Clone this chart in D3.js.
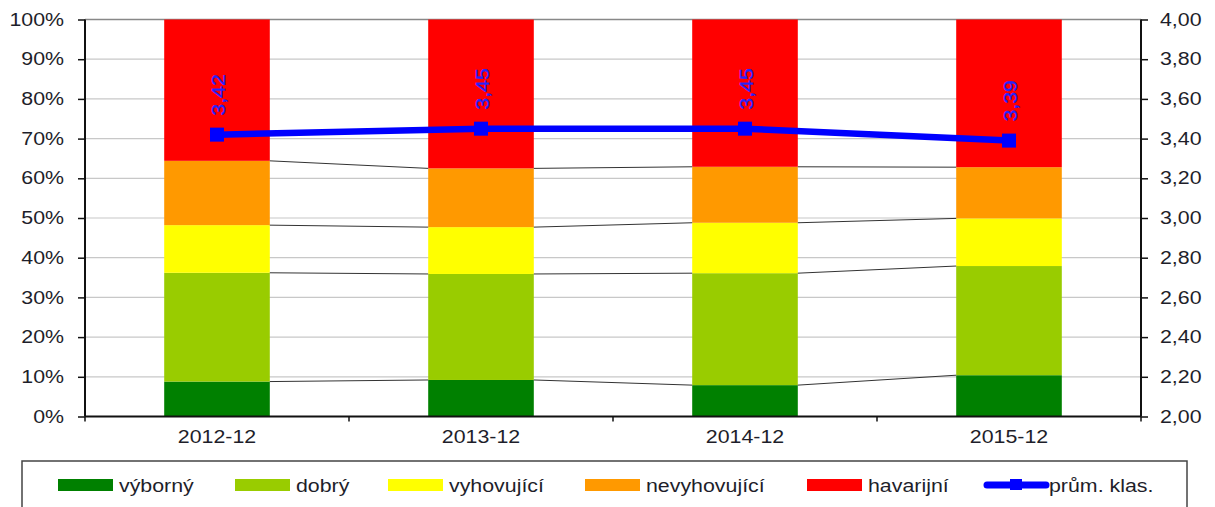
<!DOCTYPE html>
<html>
<head>
<meta charset="utf-8">
<script src="https://cdn.jsdelivr.net/npm/d3@7"></script>
<style>
  body { margin: 0; background: #fff; }
  svg text { font-family: "Liberation Sans", Arial, sans-serif; fill: #1e1e2a; }
</style>
</head>
<body>
<script>
  "use strict";

  /***** Données *****/
  const categories = ["2012-12", "2013-12", "2014-12", "2015-12"];
  const seriesNames = ["výborný", "dobrý", "vyhovující", "nevyhovující", "havarijní"];
  const seriesColors = ["#008000", "#99cc00", "#ffff00", "#ff9900", "#ff0000"];
  const vyborny = [8.8, 9.2, 7.9, 10.4];
  const dobry = [27.4, 26.7, 28.2, 27.5];
  const vyhovujici = [12.0, 11.8, 12.7, 12.0];
  const nevyhovujici = [16.2, 14.8, 14.1, 12.9];
  const havarijni = [35.6, 37.5, 37.1, 37.2];
  const prumKlas = [3.42, 3.45, 3.45, 3.39];
  const lineName = "prům. klas.";

  /***** Configuration *****/
  const W = 1215, H = 507;
  const margin = { top: 19.5, right: 74, bottom: 90.5, left: 85 };
  const width = W - margin.left - margin.right;
  const height = H - margin.top - margin.bottom;
  const STRETCH = 1.22;

  const table = categories.map((c, i) => ({
    cat: c, "výborný": vyborny[i], "dobrý": dobry[i], "vyhovující": vyhovujici[i],
    "nevyhovující": nevyhovujici[i], "havarijní": havarijni[i]
  }));
  const stacked = d3.stack().keys(seriesNames)(table);

  const x = d3.scaleBand().domain(categories).range([0, width]).paddingInner(0.6).paddingOuter(0.3);
  const xb = d3.scaleBand().domain(categories).range([0, width]);
  const y = d3.scaleLinear().domain([0, 100]).range([height, 0]);
  const y2 = d3.scaleLinear().domain([2, 4]).range([height, 0]);
  const color = d3.scaleOrdinal().domain(seriesNames).range(seriesColors);

  const svg = d3.select("body").append("svg").attr("width", W).attr("height", H);
  const g = svg.append("g").attr("transform", "translate(" + margin.left + "," + margin.top + ")");

  function stretch(sel, k) {
    sel.each(function() {
      const w = this.getComputedTextLength();
      this.setAttribute("textLength", w * (k || STRETCH));
      this.setAttribute("lengthAdjust", "spacingAndGlyphs");
    });
  }

  // Quadrillage
  g.append("g").selectAll("line")
    .data(d3.range(10, 100, 10))
    .join("line")
    .attr("x1", 0).attr("x2", width)
    .attr("y1", d => y(d)).attr("y2", d => y(d))
    .attr("stroke", "#c8c8c8").attr("stroke-width", 1.2);

  // Bordure supérieure
  g.append("line").attr("x1", 0).attr("x2", width).attr("y1", 0).attr("y2", 0)
    .attr("stroke", "#888").attr("stroke-width", 1.5);

  // Barres empilées
  g.append("g").selectAll("g")
    .data(stacked)
    .join("g")
    .attr("fill", d => color(d.key))
    .selectAll("rect")
    .data(d => d)
    .join("rect")
    .attr("x", d => x(d.data.cat))
    .attr("y", d => y(d[1]))
    .attr("width", x.bandwidth())
    .attr("height", d => y(d[0]) - y(d[1]));

  // Lignes de liaison entre barres
  const links = [];
  stacked.slice(0, 4).forEach(s => {
    for (let i = 0; i < s.length - 1; i++) {
      links.push({ a: s[i], b: s[i + 1] });
    }
  });
  g.append("g").selectAll("line")
    .data(links)
    .join("line")
    .attr("x1", d => x(d.a.data.cat) + x.bandwidth())
    .attr("y1", d => y(d.a[1]))
    .attr("x2", d => x(d.b.data.cat))
    .attr("y2", d => y(d.b[1]))
    .attr("stroke", "#333").attr("stroke-width", 1);

  // Axes
  const yAxis = g.append("g")
    .call(d3.axisLeft(y).tickValues(d3.range(0, 101, 10)).tickSize(7).tickPadding(14).tickFormat(d => d + "%"));
  const y2Axis = g.append("g").attr("transform", "translate(" + width + ",0)")
    .call(d3.axisRight(y2).tickValues(d3.range(2, 4.001, 0.2)).tickSize(7).tickPadding(12)
      .tickFormat(d => d3.format(".2f")(d).replace(".", ",")));
  const xAxis = g.append("g").attr("transform", "translate(0," + height + ")")
    .call(d3.axisBottom(xb).tickSize(0).tickPadding(14));
  g.append("g").attr("transform", "translate(0," + height + ")")
    .selectAll("line")
    .data(d3.range(0, categories.length + 1))
    .join("line")
    .attr("x1", d => d * xb.step()).attr("x2", d => d * xb.step())
    .attr("y1", 0).attr("y2", 5)
    .attr("stroke", "#111").attr("stroke-width", 1.5);

  [yAxis, y2Axis, xAxis].forEach(a => {
    a.select(".domain").attr("stroke", "#111").attr("stroke-width", 2);
    a.selectAll(".tick line").attr("stroke", "#111").attr("stroke-width", 1.5);
    a.selectAll("text").attr("font-size", 17.5).attr("fill", "#1e1e2a");
  });
  y2Axis.select(".domain").attr("d", "M0,0V" + height);
  yAxis.select(".domain").attr("d", "M0,0V" + height);
  xAxis.select(".domain").attr("d", "M0,0H" + width);
  xAxis.selectAll("text").attr("dy", "0.71em");
  stretch(yAxis.selectAll("text"));
  stretch(y2Axis.selectAll("text"));
  stretch(xAxis.selectAll("text"));

  // Ligne de classification moyenne
  const cx = d => x(d.cat) + x.bandwidth() / 2;
  const pts = categories.map((c, i) => ({ cat: c, v: prumKlas[i] }));
  g.append("path")
    .datum(pts)
    .attr("fill", "none")
    .attr("stroke", "#0000ff")
    .attr("stroke-width", 6.5)
    .attr("d", d3.line().x(cx).y(d => y2(d.v)));
  g.append("g").selectAll("rect")
    .data(pts)
    .join("rect")
    .attr("x", d => cx(d) - 7).attr("y", d => y2(d.v) - 7)
    .attr("width", 14).attr("height", 14)
    .attr("fill", "#0000ff");
  const lbl = g.append("g").selectAll("text")
    .data(pts)
    .join("text")
    .attr("transform", d => "translate(" + (cx(d) + 8) + "," + (y2(d.v) - 19) + ") rotate(-90)")
    .attr("font-size", 19)
    .style("fill", "#2323ff")
    .style("stroke", "#2323ff")
    .style("stroke-width", 0.3)
    .text(d => d3.format(".2f")(d.v).replace(".", ","));
  stretch(lbl, 1.12);

  /***** Légende *****/
  const legendX = [58, 235, 388, 585, 807, 984];
  const leg = svg.append("g");
  leg.append("rect")
    .attr("x", 22).attr("y", 461).attr("width", 1165).attr("height", 60)
    .attr("fill", "#fff").attr("stroke", "#444").attr("stroke-width", 1.5);
  const items = seriesNames.concat([lineName]);
  const item = leg.selectAll("g.item")
    .data(items)
    .join("g")
    .attr("class", "item")
    .attr("transform", (d, i) => "translate(" + legendX[i] + ",485)");
  item.filter((d, i) => i < 5).append("rect")
    .attr("x", 0).attr("y", -6).attr("width", 55).attr("height", 12)
    .attr("fill", d => color(d));
  const lineItem = item.filter((d, i) => i === 5);
  lineItem.append("line")
    .attr("x1", 3).attr("x2", 62).attr("y1", 0).attr("y2", 0)
    .attr("stroke", "#0000ff").attr("stroke-width", 7).attr("stroke-linecap", "round");
  lineItem.append("rect")
    .attr("x", 26).attr("y", -6).attr("width", 12).attr("height", 11).attr("fill", "#0000ff");
  const legText = item.append("text")
    .attr("x", (d, i) => i < 5 ? 61 : 65)
    .attr("y", 7)
    .attr("font-size", 17.5)
    .text(d => d);
  stretch(legText);
</script>
</body>
</html>
